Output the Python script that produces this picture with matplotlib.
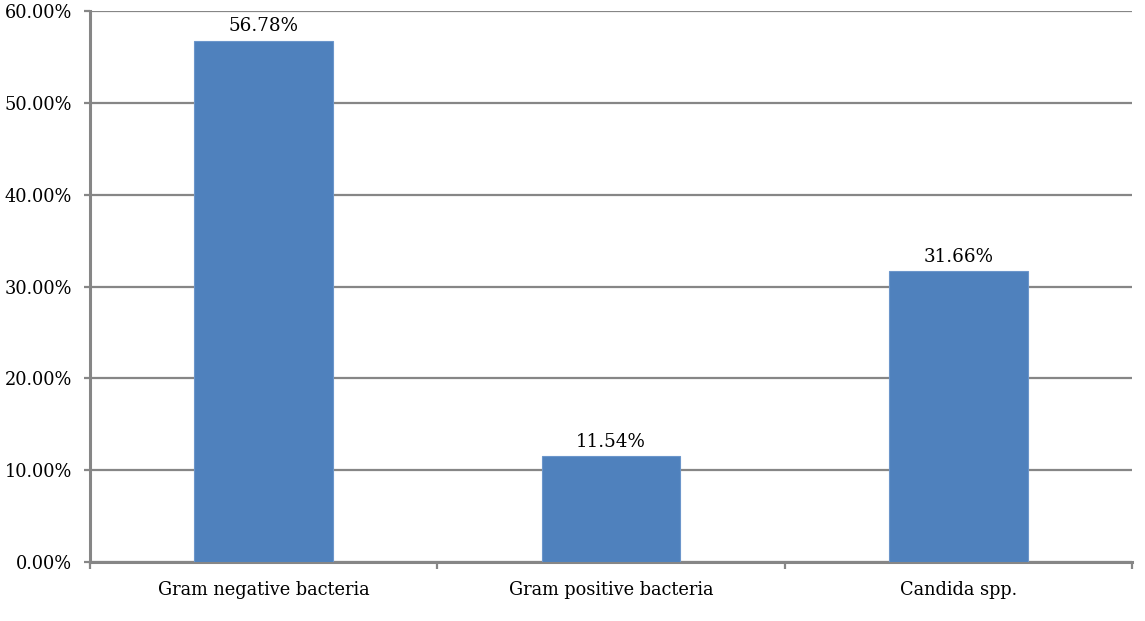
import numpy as np
import matplotlib.pyplot as plt
from matplotlib.ticker import FuncFormatter

# Veriler
categories = ['Gram negative bacteria', 'Gram positive bacteria', 'Candida spp.']
values = [56.78, 11.54, 31.66]  # yüzde
yticks = [0, 10, 20, 30, 40, 50, 60]

plt.rcParams['font.family'] = ['DejaVu Serif']
grid_color = '#868686'

fig = plt.figure(figsize=(11.45, 6.21), dpi=100)
ax = fig.add_axes([90 / 1145, 1 - 562 / 621, (1132 - 90) / 1145, (562 - 11) / 621])

x = np.arange(len(categories))
bars = ax.bar(x, values, width=0.4, color='#4F81BD', edgecolor='#6C96CB', linewidth=0.8, zorder=3)

for b, v in zip(bars, values):
    ax.text(b.get_x() + b.get_width() / 2, v + 0.6, f'{v:.2f}%',
            ha='center', va='bottom', fontsize=13.2, color='black')

ax.set_xlim(-0.5, len(categories) - 0.5)
ax.set_ylim(0, 60)
ax.set_yticks(yticks)
ax.yaxis.set_major_formatter(FuncFormatter(lambda v, p: f'{v:.2f}%'))
ax.set_xticks(x)
ax.set_xticklabels(categories)
ax.set_xticks(np.arange(len(categories) + 1) - 0.5, minor=True)

ax.yaxis.grid(True, color=grid_color, linewidth=1.6, zorder=0)
ax.set_axisbelow(True)

for s in ['top', 'right']:
    ax.spines[s].set_visible(False)
for s in ['left', 'bottom']:
    ax.spines[s].set_color(grid_color)
    ax.spines[s].set_linewidth(2.2)

ax.tick_params(axis='y', length=4.5, width=1.6, color=grid_color, pad=8.5, labelsize=12.8)
ax.tick_params(axis='x', which='major', length=0, pad=14, labelsize=12.8)
ax.tick_params(axis='x', which='minor', length=5, width=1.6, color=grid_color)

fig.savefig('out.png', dpi=100)
